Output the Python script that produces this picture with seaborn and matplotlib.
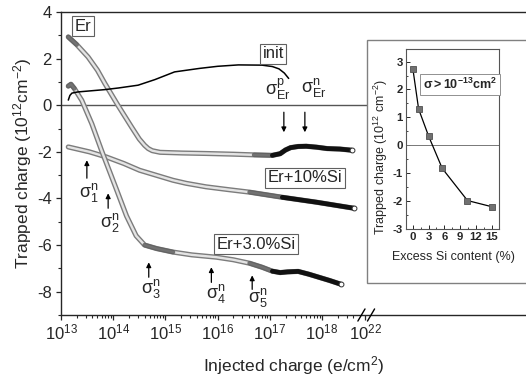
import pandas as pd
import seaborn as sns
import matplotlib.pyplot as plt
import matplotlib.patheffects as pe
from matplotlib.patches import Rectangle
from matplotlib.ticker import FixedLocator, FixedFormatter, MultipleLocator

# Main panel: injected charge (e/cm2) vs trapped charge (1e12 cm-2)
er_x = [1.38e13, 2.0e13, 3.3e13, 5.0e13, 6.9e13, 1.23e14, 2.24e14, 3.16e14, 4.0e14, 4.7e14,
        5.6e14, 7.9e14, 2.1e15, 6.0e15, 2.0e16, 5.0e16, 1.12e17, 1.58e17, 2.0e17, 2.5e17,
        3.5e17, 5.0e17, 7.9e17, 1.26e18, 2.2e18, 3.7e18]
er_y = [2.93, 2.6, 2.07, 1.5, 0.94, 0.0, -0.93, -1.45, -1.72, -1.86,
        -1.95, -2.02, -2.05, -2.07, -2.1, -2.13, -2.15, -2.08, -1.92, -1.82,
        -1.77, -1.76, -1.8, -1.86, -1.88, -1.93]

si10_x = [1.38e13, 3.5e13, 7.4e13, 1.6e14, 3.2e14, 5.0e14, 1.4e15, 2.5e15, 6.0e15, 1.6e16,
          4.1e16, 1.74e17, 7.8e17, 4.1e18]
si10_y = [-1.79, -2.0, -2.22, -2.5, -2.79, -2.92, -3.22, -3.35, -3.5, -3.62,
          -3.73, -3.95, -4.16, -4.42]

si3_x = [1.38e13, 1.55e13, 1.8e13, 2.5e13, 3.9e13, 6.0e13, 1.15e14, 1.8e14, 2.75e14, 4.0e14,
         6.8e14, 1.4e15, 3.2e15, 9.5e15, 2.0e16, 4.1e16, 7.1e16, 1.12e17, 1.58e17, 2.2e17,
         3.5e17, 5.6e17, 8.7e17, 1.4e18, 2.3e18]
si3_y = [0.82, 0.9, 0.72, 0.21, -0.8, -1.95, -3.6, -4.75, -5.6, -6.0,
         -6.15, -6.3, -6.42, -6.52, -6.63, -6.78, -6.95, -7.12, -7.18, -7.15,
         -7.13, -7.25, -7.38, -7.52, -7.68]

init_x = [1.38e13, 1.48e13, 1.62e13, 2.1e13, 6.9e13, 1.26e14, 3.0e14, 6.3e14, 1.5e15, 4.5e15,
          1.0e16, 2.5e16, 7.1e16, 1.12e17, 1.5e17, 1.9e17, 2.3e17]
init_y = [0.22, 0.42, 0.52, 0.57, 0.67, 0.74, 0.86, 1.1, 1.43, 1.58,
          1.67, 1.73, 1.72, 1.66, 1.56, 1.38, 1.15]

# Inset: trapped charge vs excess Si content
si_content = [0, 1.1, 3, 5.6, 10.4, 15]
si_charge = [2.75, 1.3, 0.33, -0.83, -1.98, -2.2]

x_tick_vals = [1e13, 1e14, 1e15, 1e16, 1e17, 1e18, 6.7e18]
x_tick_labels = [r'$10^{13}$', r'$10^{14}$', r'$10^{15}$', r'$10^{16}$', r'$10^{17}$',
                 r'$10^{18}$', r'$10^{22}$']

sns.set_style('ticks')
plt.rcParams['font.family'] = ['Liberation Sans', 'DejaVu Sans']
plt.rcParams['mathtext.fontset'] = 'custom'
plt.rcParams['mathtext.rm'] = 'Liberation Sans'
plt.rcParams['mathtext.it'] = 'Liberation Sans:italic'
plt.rcParams['mathtext.bf'] = 'Liberation Sans:bold'
plt.rcParams['mathtext.default'] = 'regular'
plt.rcParams['axes.unicode_minus'] = False

fig = plt.figure(figsize=(5.26, 3.8), dpi=100)
ax = fig.add_axes([61 / 526, 1 - 315 / 380, 465 / 526, 303 / 380])

chain = [pe.Stroke(linewidth=3.7, foreground='#7c7c7c'), pe.Normal()]


def draw_chain(x, y, mid_ranges, dark_from):
    df = pd.DataFrame({'x': x, 'y': y})
    sns.lineplot(data=df, x='x', y='y', sort=False, estimator=None, ax=ax,
                 color='#e4e4e4', lw=1.7, path_effects=chain, zorder=3)
    for lo, hi in mid_ranges:
        mid = df[(df['x'] >= lo) & (df['x'] <= hi)]
        sns.lineplot(data=mid, x='x', y='y', sort=False, estimator=None, ax=ax,
                     color='#5e5e5e', lw=3.3, alpha=0.85, solid_capstyle='round', zorder=3)
    dark = df[df['x'] >= dark_from]
    sns.lineplot(data=dark, x='x', y='y', sort=False, estimator=None, ax=ax,
                 color='#111111', lw=3.4, solid_capstyle='round', zorder=3)
    ax.plot(x[-1], y[-1], 'o', ms=3.5, mfc='white', mec='#333333', mew=0.7, zorder=4)


ax.axhline(0, color='#555555', lw=1.0, zorder=1)
draw_chain(si10_x, si10_y, [(4.0e16, 1.8e17)], 1.7e17)
draw_chain(er_x, er_y, [(1.38e13, 2.0e13), (5.0e16, 1.2e17)], 1.1e17)
draw_chain(si3_x, si3_y, [(1.38e13, 1.8e13), (4.0e14, 1.4e15), (3.0e16, 1.2e17)], 1.0e17)
sns.lineplot(x=init_x, y=init_y, sort=False, estimator=None, ax=ax, color='black', lw=1.1, zorder=3)

ax.set_xscale('log')
ax.set_xlim(1e13, 8.1e21)
ax.set_ylim(-9, 4)
ax.xaxis.set_major_locator(FixedLocator(x_tick_vals))
ax.xaxis.set_major_formatter(FixedFormatter(x_tick_labels))
minor = [k * 10.0 ** d for d in range(13, 18) for k in range(2, 10)] + [2e18, 3e18, 4e18]
ax.xaxis.set_minor_locator(FixedLocator(minor))
ax.yaxis.set_major_locator(MultipleLocator(2))
ax.yaxis.set_minor_locator(MultipleLocator(1))
ax.tick_params(which='major', direction='out', length=3.6, width=0.9, labelsize=12, pad=3)
ax.tick_params(which='minor', direction='out', length=1.9, width=0.8)
ax.tick_params(axis='x', labelsize=12, pad=2)
for s in ['left', 'bottom', 'top']:
    ax.spines[s].set_linewidth(1.0)
ax.spines['right'].set_visible(False)

ax.set_ylabel(r'Trapped charge (10$^{12}$cm$^{-2}$)', fontsize=12.5)
ax.yaxis.set_label_coords(-0.058, 0.5)
ax.set_xlabel(r'Injected charge (e/cm$^{2}$)', fontsize=12.5)
ax.xaxis.set_label_coords(0.5, -0.13)

# axis break marks
for xb in [5.7e18, 8.7e18]:
    ax.plot([xb / 1.17, xb * 1.17], [-0.02, 0.02], transform=ax.get_xaxis_transform(),
            color='black', lw=1.0, clip_on=False, zorder=5)

box = dict(boxstyle='square,pad=0.15', fc='white', ec='#606060', lw=0.8)
ax.text(2.63e13, 3.39, 'Er', fontsize=12, ha='center', va='center', bbox=box, zorder=6)
ax.text(1.16e17, 2.21, 'init', fontsize=12, ha='center', va='center', bbox=box, zorder=6)
ax.text(4.73e17, -3.11, 'Er+10%Si', fontsize=12, ha='center', va='center', bbox=box, zorder=6)
ax.text(5.5e16, -5.97, 'Er+3.0%Si', fontsize=12, ha='center', va='center', bbox=box, zorder=6)

sig_labels = [r'$\sigma_1^n$', r'$\sigma_2^n$', r'$\sigma_3^n$', r'$\sigma_4^n$', r'$\sigma_5^n$',
              r'$\sigma_{Er}^p$', r'$\sigma_{Er}^n$']
sig_x = [3.35e13, 8.6e13, 5.33e14, 9.3e15, 5.9e16, 1.45e17, 7.1e17]
sig_y = [-3.76, -5.04, -7.88, -8.09, -8.26, 0.665, 0.75]
arrow_x = [3.13e13, 8.0e13, 4.8e14, 7.6e15, 4.6e16, 1.86e17, 4.7e17]
arrow_tail = [-3.13, -4.42, -7.38, -7.6, -7.9, -0.30, -0.30]
arrow_tip = [-2.36, -3.78, -6.74, -6.95, -7.3, -1.16, -1.16]
for lab, tx, ty in zip(sig_labels, sig_x, sig_y):
    ax.text(tx, ty, lab, fontsize=13, ha='center', va='center', zorder=6)
for axx, y0, y1 in zip(arrow_x, arrow_tail, arrow_tip):
    ax.annotate('', xy=(axx, y1), xytext=(axx, y0),
                arrowprops=dict(arrowstyle='-|>', color='black', lw=0.9,
                                mutation_scale=7, shrinkA=0, shrinkB=0), zorder=6)

# inset frame and axes
frame = Rectangle((367 / 526, 1 - 283 / 380), 0.32, 243 / 380, transform=fig.transFigure,
                  fc='white', ec='#808080', lw=1.0, zorder=2)
fig.add_artist(frame)
axin = fig.add_axes([406 / 526, 1 - 229 / 380, 93 / 526, 180 / 380])
axin.set_zorder(3)
axin.axhline(0, color='#777777', lw=0.7)
sns.lineplot(x=si_content, y=si_charge, ax=axin, color='black', lw=0.9, marker='s',
             markersize=4.5, markerfacecolor='#707070', markeredgecolor='#505050',
             markeredgewidth=0.6)
axin.set_xlim(-1.3, 16.4)
axin.set_ylim(-3, 3.45)
axin.set_xticks([0, 3, 6, 9, 12, 15])
axin.set_yticks([-3, -2, -1, 0, 1, 2, 3])
axin.xaxis.set_minor_locator(MultipleLocator(1.5))
axin.yaxis.set_minor_locator(MultipleLocator(0.5))
axin.tick_params(which='major', direction='in', length=3, width=0.7, labelsize=8.2, pad=2.5)
axin.tick_params(which='minor', direction='in', length=1.6, width=0.6)
plt.setp(axin.get_xticklabels() + axin.get_yticklabels(), fontweight='bold')
for s in axin.spines.values():
    s.set_linewidth(0.8)
    s.set_color('#555555')
axin.set_xlabel('Excess Si content (%)', fontsize=9)
axin.xaxis.set_label_coords(0.505, -0.12)
axin.set_ylabel(r'Trapped charge (10$^{12}$ cm$^{-2}$)', fontsize=9)
axin.yaxis.set_label_coords(-0.175, 0.40)
axin.text(9.0, 2.18, r'$\mathbf{\sigma>10^{-13}cm^{2}}$', fontsize=9, ha='center', va='center',
          bbox=dict(boxstyle='square,pad=0.22', fc='white', ec='#909090', lw=0.7))

fig.savefig('out.png', dpi=100)
